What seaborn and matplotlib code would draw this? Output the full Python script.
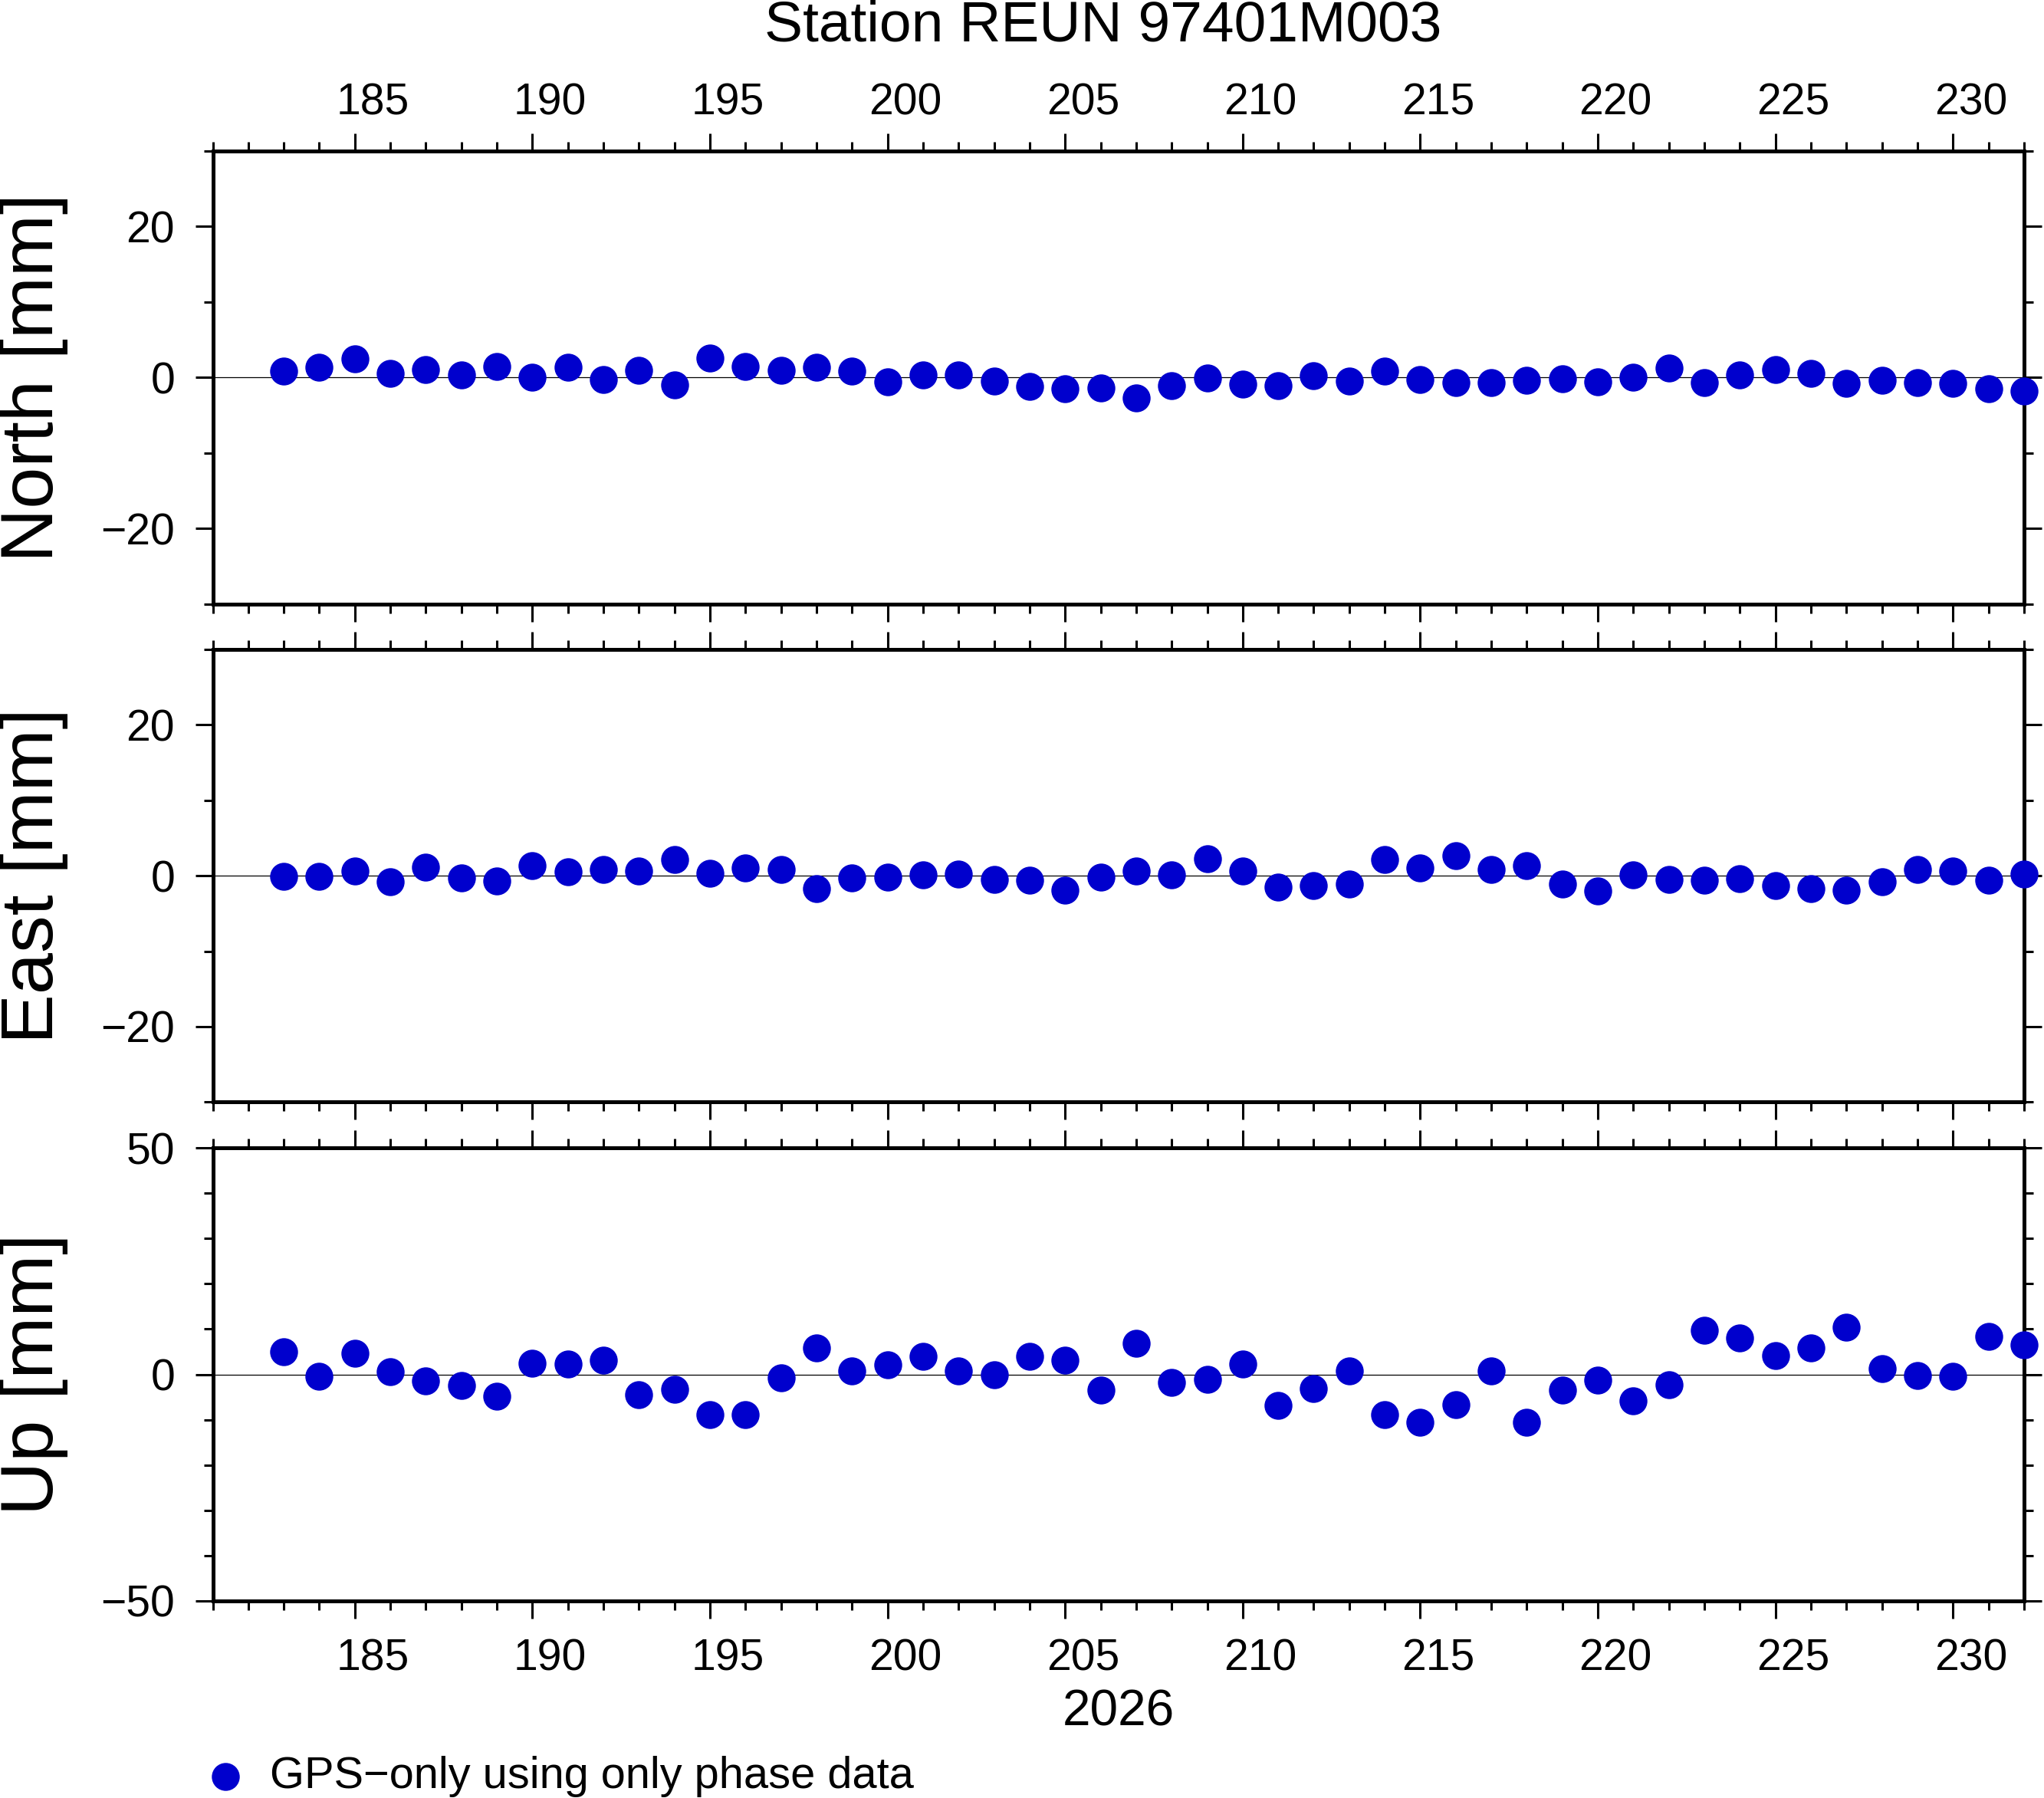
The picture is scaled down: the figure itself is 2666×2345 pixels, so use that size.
import matplotlib
matplotlib.use("Agg")
import matplotlib.pyplot as plt
import matplotlib.transforms as mtransforms
from matplotlib.ticker import MultipleLocator, FixedLocator
import seaborn as sns
import pandas as pd

# ---------------- data ----------------
days = list(range(183, 233))
north = [0.9, 1.4, 2.5, 0.6, 1.1, 0.3, 1.5, 0.0, 1.4, -0.3, 1.0, -1.0, 2.6, 1.5, 1.0, 1.4, 0.9, -0.6,
         0.3, 0.3, -0.5, -1.2, -1.5, -1.4,
         -2.7, -1.1, -0.1, -0.9, -1.1, 0.2, -0.5, 0.9, -0.3, -0.7, -0.7, -0.4, -0.2, -0.6, 0.0, 1.3,
         -0.7, 0.4, 1.1, 0.6, -0.8, -0.4, -0.7, -0.8, -1.5, -1.8]
east = [-0.1, -0.1, 0.6, -0.8, 1.1, -0.3, -0.7, 1.3, 0.5, 0.8, 0.6, 2.1, 0.3, 1.0, 0.8, -1.7, -0.3, -0.2,
        0.1, 0.2, -0.5, -0.6, -1.9, -0.2,
        0.6, 0.1, 2.2, 0.6, -1.5, -1.3, -1.1, 2.1, 1.0, 2.6, 0.8, 1.3, -1.1, -2.0, 0.1, -0.5,
        -0.6, -0.4, -1.3, -1.7, -1.9, -0.8, 0.8, 0.6, -0.6, 0.2]
up = [5.0, -0.5, 4.6, 0.6, -1.5, -2.5, -4.9, 2.4, 2.3, 3.1, -4.5, -3.3, -8.8, -8.8, -0.7, 5.9, 0.7, 2.2,
      4.0, 0.8, 0.0, 3.9, 3.1, -3.4,
      6.8, -1.8, -1.1, 2.3, -6.8, -3.2, 0.7, -8.9, -10.5, -6.6, 0.7, -10.6, -3.4, -1.3, -5.9, -2.3,
      9.7, 8.0, 4.1, 5.8, 10.4, 1.2, -0.2, -0.5, 8.4, 6.5]

panel_labels = ["North [mm]", "East [mm]", "Up [mm]"]
panel_ylims = [(-30, 30), (-30, 30), (-50, 50)]
panel_major = [20, 20, 50]
x_major_ticks = [185, 190, 195, 200, 205, 210, 215, 220, 225, 230]
title_text = "Station REUN 97401M003"
year_label = "2026"
legend_label = "GPS\u2212only using only phase data"

df = pd.DataFrame({"day": days, "North [mm]": north, "East [mm]": east, "Up [mm]": up})

# ---------------- style ----------------
sns.set_style("ticks")
plt.rcParams["font.family"] = ["Liberation Sans", "DejaVu Sans"]
plt.rcParams["axes.unicode_minus"] = True
for key in ["text.color", "axes.labelcolor", "xtick.color", "ytick.color",
            "xtick.labelcolor", "ytick.labelcolor", "axes.edgecolor"]:
    plt.rcParams[key] = "black"

W, H, DPI = 2666, 2345, 200
fig = plt.figure(figsize=(W / DPI, H / DPI), dpi=DPI)

left, width, height = 0.1041, 0.8861, 0.252
bottoms = [0.6640, 0.3870, 0.1096]
color = "#0000CD"
tick_fs = 20.5

axes = []
for i, (lab, ylim, maj) in enumerate(zip(panel_labels, panel_ylims, panel_major)):
    ax = fig.add_axes([left, bottoms[i], width, height])
    axes.append(ax)
    ax.axhline(0, color="black", lw=0.45, zorder=1)
    sns.scatterplot(data=df, x="day", y=lab, ax=ax, s=172, color=color, linewidth=0,
                    clip_on=False, zorder=3,
                    label=legend_label if i == 2 else None, legend=False)
    ax.set_xlim(181, 232)
    ax.set_ylim(*ylim)
    ax.xaxis.set_major_locator(FixedLocator(x_major_ticks))
    ax.xaxis.set_minor_locator(MultipleLocator(1))
    ax.yaxis.set_major_locator(MultipleLocator(maj))
    ax.yaxis.set_minor_locator(MultipleLocator(10))
    for sp in ax.spines.values():
        sp.set_visible(True)
        sp.set_linewidth(1.8)
        sp.set_color("black")
    ax.tick_params(axis="both", which="both", direction="out", color="black",
                   labelcolor="black", width=1.1, labelsize=tick_fs, top=True, right=True)
    ax.tick_params(axis="both", which="major", length=8.3)
    ax.tick_params(axis="both", which="minor", length=4.3)
    ax.tick_params(axis="y", which="major", pad=9.5, labelleft=True, labelright=False)
    ax.tick_params(axis="x", which="major", pad=(4.6 if i == 0 else 9),
                   labeltop=(i == 0), labelbottom=(i == 2))
    ax.set_xlabel("")
    ax.set_ylabel(lab, fontsize=35)
    ax.yaxis.set_label_coords(-0.080, 0.5)
    ax.grid(False)

# shift day labels to the middle of the day interval
offset = mtransforms.ScaledTranslation(0.116, 0, fig.dpi_scale_trans)
for ax in axes:
    for t in ax.xaxis.get_major_ticks():
        t.label1.set_transform(t.label1.get_transform() + offset)
        t.label2.set_transform(t.label2.get_transform() + offset)

axes[2].set_xlabel(year_label, fontsize=23.7)
axes[2].xaxis.label.set_va("center")
axes[2].xaxis.set_label_coords(0.5, -0.2465)

fig.text(0.5395, 0.9855, title_text, fontsize=27, ha="center", va="center")

handles, labels = axes[2].get_legend_handles_labels()
fig.legend(handles, labels, loc="center left", bbox_to_anchor=(0.0994, 0.0120),
           frameon=False, fontsize=20.8, handlelength=1.0, handletextpad=0.5,
           borderpad=0, borderaxespad=0, markerscale=1.0)

fig.savefig("out.png", dpi=DPI)
